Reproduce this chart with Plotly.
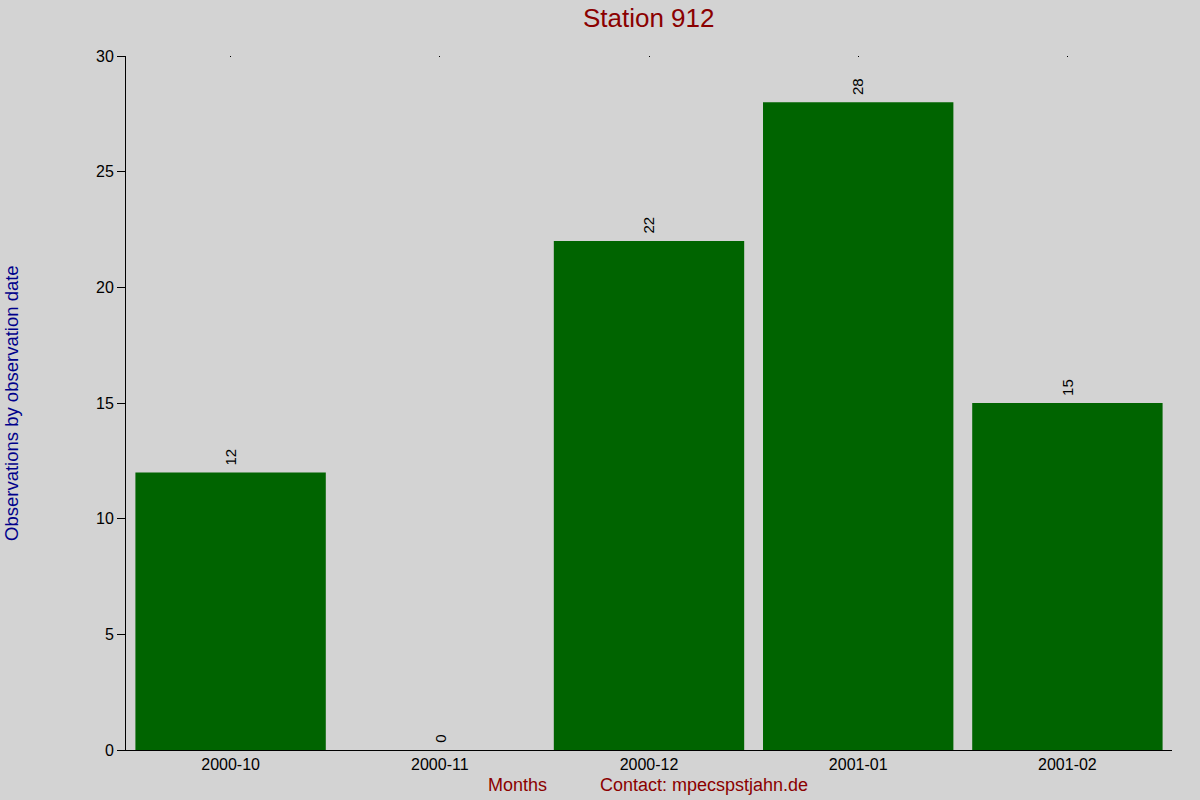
import plotly.graph_objects as go

months = ["2000-10", "2000-11", "2000-12", "2001-01", "2001-02"]
counts = [12, 0, 22, 28, 15]
y_ticks = [0, 5, 10, 15, 20, 25, 30]

bg = "#d3d3d3"
bar_color = "#006400"
red = "#8b0000"
blue = "#00008b"

fig = go.Figure()

fig.add_trace(go.Bar(
    x=months, y=counts,
    marker=dict(color=bar_color, line=dict(width=0)),
    hoverinfo="x+y",
))

# value labels above each bar, rotated
value_labels = [
    dict(x=m, y=c, text=str(c), xref="x", yref="y", showarrow=False,
         textangle=-90, xanchor="center", yanchor="bottom", yshift=5,
         font=dict(family="Liberation Sans, Arial", size=15, color="black"))
    for m, c in zip(months, counts)
]

fig.update_layout(
    width=1200, height=800,
    paper_bgcolor=bg, plot_bgcolor=bg,
    margin=dict(l=126, r=28, t=56, b=50),
    bargap=0.09,
    showlegend=False,
    font=dict(family="Liberation Sans, Arial", size=16, color="black"),
    title=dict(text="Station 912", x=0.5406, xanchor="center", y=0.978, yanchor="middle",
               font=dict(size=26, color=red)),
    xaxis=dict(
        type="category", range=[-0.5, 4.5],
        showline=True, linecolor="black", linewidth=1,
        ticks="", showgrid=False, zeroline=False,
        tickfont=dict(size=16, color="black"),
    ),
    xaxis2=dict(
        matches="x", overlaying="x", side="top", type="category",
        showline=False, showgrid=False, showticklabels=False,
        ticks="inside", ticklen=1, tickwidth=1, tickcolor="black",
    ),
    yaxis=dict(
        range=[0, 30], tickvals=y_ticks,
        showline=True, linecolor="black", linewidth=1,
        ticks="outside", ticklen=8, tickcolor="black",
        showgrid=False, zeroline=False,
        tickfont=dict(size=16, color="black"),
    ),
    annotations=value_labels + [
        dict(text="Observations by observation date", xref="paper", yref="paper",
             x=-0.11, y=0.5, xanchor="center", yanchor="middle", textangle=-90,
             showarrow=False, font=dict(size=18.5, color=blue)),
        dict(text="Months", xref="paper", yref="paper",
             x=0.374, y=-0.0504, xanchor="center", yanchor="middle",
             showarrow=False, font=dict(size=18, color=red)),
        dict(text="Contact: mpecspstjahn.de", xref="paper", yref="paper",
             x=0.5526, y=-0.0504, xanchor="center", yanchor="middle",
             showarrow=False, font=dict(size=18, color=red)),
    ],
)

# invisible trace so the top axis draws its tiny ticks
fig.add_trace(go.Scatter(x=months, y=counts, xaxis="x2", mode="markers",
                         marker=dict(opacity=0), hoverinfo="skip"))

fig.write_html("out.html", config={"displayModeBar": False},
               post_script="document.body.style.margin='0';")
